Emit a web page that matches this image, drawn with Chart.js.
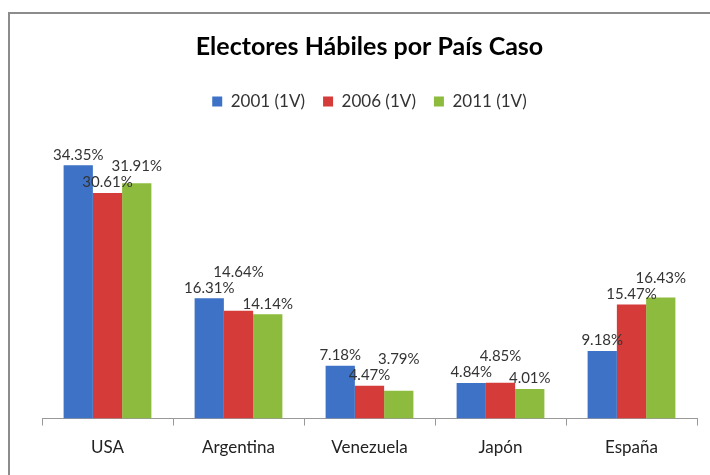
<!DOCTYPE html>
<html>
<head>
<meta charset="utf-8">
<script src="https://cdn.jsdelivr.net/npm/chart.js@4"></script>
<style>
  html, body { margin: 0; padding: 0; background: #fff; }
  #frame { position: absolute; left: 8px; top: 12px; width: 760px; height: 520px; border: 2px solid #8c8c8c; }
  #wrap { position: absolute; left: 0; top: 0; width: 710px; height: 475px; }
</style>
</head>
<body>
<div id="frame"></div>
<div id="wrap"><canvas id="barChartPais"></canvas></div>
<script>
// datos
var paises = ["USA", "Argentina", "Venezuela", "Japón", "España"];
var v2001 = [34.35, 16.31, 7.18, 4.84, 9.18];
var v2006 = [30.61, 14.64, 4.47, 4.85, 15.47];
var v2011 = [31.91, 14.14, 3.79, 4.01, 16.43];
var series = ["2001 (1V)", "2006 (1V)", "2011 (1V)"];

var fuente = "Lato, 'Open Sans', sans-serif";

// etiquetas de valor encima de cada barra (se suben si chocan)
var etiquetas = {
  id: 'etiquetas',
  afterDatasetsDraw: function (chart) {
    var ctx = chart.ctx;
    ctx.save();
    ctx.font = "15px " + fuente;
    ctx.fillStyle = "#333";
    ctx.textAlign = "center";
    ctx.textBaseline = "bottom";
    var puestas = [];
    chart.data.datasets.forEach(function (ds, i) {
      chart.getDatasetMeta(i).data.forEach(function (bar, j) {
        var txt = ds.data[j].toFixed(2) + "%";
        var w = ctx.measureText(txt).width;
        var y = bar.y - 3;
        var x = bar.x;
        var choca = true;
        while (choca) {
          choca = false;
          puestas.forEach(function (p) {
            if (Math.abs(p.x - x) < (p.w + w) / 2 && Math.abs(p.y - y) < 16) {
              y = p.y - 16;
              choca = true;
            }
          });
        }
        puestas.push({ x: x, y: y, w: w });
        ctx.fillText(txt, x, y);
      });
    });
    ctx.restore();
  }
};

var ctxB = document.getElementById("barChartPais").getContext('2d');
var myBarChart = new Chart(ctxB, {
  type: 'bar',
  data: {
    labels: paises,
    datasets: [{
      label: series[0],
      data: v2001,
      backgroundColor: "#3d72c6"
    }, {
      label: series[1],
      data: v2006,
      backgroundColor: "#d43b39"
    }, {
      label: series[2],
      data: v2011,
      backgroundColor: "#8dbb3d"
    }]
  },
  options: {
    responsive: true,
    maintainAspectRatio: false,
    animation: false,
    categoryPercentage: 0.67,
    barPercentage: 1.0,
    layout: { padding: { left: 42, right: 13, top: 32, bottom: 5 } },
    plugins: {
      title: {
        display: true,
        text: "Electores Hábiles por País Caso",
        color: "#000",
        font: { family: fuente, size: 25, weight: 'bold' },
        padding: { top: 0, bottom: 13 }
      },
      legend: {
        display: true,
        labels: {
          color: "#333",
          font: { family: fuente, size: 17 },
          boxWidth: 10,
          boxHeight: 10,
          padding: 18
        }
      },
      tooltip: { enabled: false }
    },
    scales: {
      x: {
        grid: { display: true, offset: true, drawOnChartArea: false, tickLength: 7, color: "#999" },
        border: { display: true, color: "#999" },
        ticks: { color: "#222", font: { family: fuente, size: 17 }, padding: 12 }
      },
      y: {
        display: false,
        min: 0,
        max: 40.5
      }
    }
  },
  plugins: [etiquetas]
});
</script>
</body>
</html>
